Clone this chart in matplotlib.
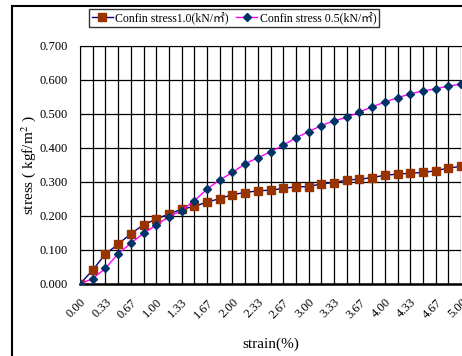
import numpy as np
import matplotlib
matplotlib.use("Agg")
import matplotlib.pyplot as plt
from matplotlib.lines import Line2D

plt.rcParams['font.family'] = ['Liberation Serif', 'Noto Sans CJK JP', 'DejaVu Sans']
plt.rcParams['mathtext.fontset'] = 'stix'

# strain in %, one point every 1/6 %
strain = np.arange(31) / 6.0
stress_10 = [0, 0.041, 0.088, 0.117, 0.148, 0.174, 0.191, 0.206, 0.220, 0.228,
             0.241, 0.251, 0.263, 0.269, 0.274, 0.276, 0.281, 0.286, 0.286, 0.295,
             0.298, 0.306, 0.308, 0.313, 0.320, 0.323, 0.326, 0.328, 0.333, 0.341, 0.346]
stress_05 = [0, 0.016, 0.046, 0.089, 0.120, 0.149, 0.173, 0.198, 0.216, 0.245,
             0.279, 0.306, 0.328, 0.354, 0.371, 0.389, 0.408, 0.430, 0.448, 0.466,
             0.480, 0.490, 0.506, 0.521, 0.535, 0.548, 0.559, 0.568, 0.574, 0.582, 0.588]
xticks = np.arange(16) / 3.0
xlabels = ["0.00", "0.33", "0.67", "1.00", "1.33", "1.67", "2.00", "2.33", "2.67",
           "3.00", "3.33", "3.67", "4.00", "4.33", "4.67", "5.00"]
yticks = np.arange(8) / 10.0

fig = plt.figure(figsize=(4.62, 3.56), dpi=100)
ax = fig.add_axes([80/462, 1-284/356, 381/462, 238/356])

ax.plot(strain, stress_10, color='#000080', lw=1.0, marker='s', ms=5.5,
        mfc='#993300', mec='#993300', label='Confin stress1.0(kN/㎡)', zorder=3)
ax.plot(strain, stress_05, color='#ff00ff', lw=1.0, marker='D', ms=3.6,
        mfc='#003366', mec='#003366', label='Confin stress 0.5(kN/㎡)', zorder=4)

ax.set_xlim(0, 5)
ax.set_ylim(0, 0.7)
ax.set_xticks(xticks)
ax.set_xticklabels(xlabels, rotation=45, ha='right', rotation_mode='anchor', fontsize=9)
ax.set_xticks(np.arange(31) / 6.0, minor=True)
ax.set_yticks(yticks)
ax.set_yticklabels(["%.3f" % v for v in yticks], fontsize=9)
ax.tick_params(axis='both', which='both', length=0)
ax.tick_params(axis='y', pad=9)
ax.tick_params(axis='x', pad=9)
ax.grid(True, which='major', color='black', lw=0.9)
ax.grid(True, which='minor', axis='x', color='black', lw=0.9)
ax.spines['bottom'].set_linewidth(1.8)
ax.spines['right'].set_visible(False)

ax.set_ylabel(r'stress ( kgf/m$^{2}$ )', fontsize=11)
ax.yaxis.set_label_coords(-42/381, 0.5)
ax.set_xlabel('strain(%)', fontsize=11, labelpad=12)

fig.legend(loc='center', bbox_to_anchor=(234/462, 1-18/356), ncol=2, fontsize=8.5,
           frameon=True, fancybox=False, edgecolor='black', handlelength=1.8,
           handletextpad=0.2, columnspacing=0.6, borderpad=0.25, borderaxespad=0.2)

# outer frame
fig.add_artist(Line2D([12/462, 12/462], [0, 1-6/356], color='black', lw=1.5))
fig.add_artist(Line2D([12/462, 1], [1-6/356, 1-6/356], color='black', lw=1.5))

fig.savefig('out.png', dpi=100)
